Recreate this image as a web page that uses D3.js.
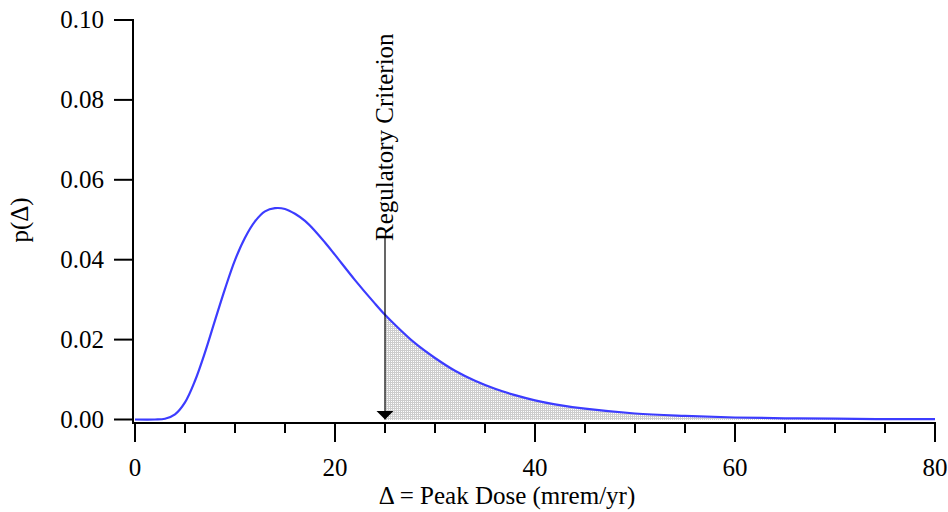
<!DOCTYPE html>
<html>
<head>
<meta charset="utf-8" />
<title>Peak Dose Distribution</title>
<script src="https://d3js.org/d3.v7.min.js"></script>
<style>
  body { margin: 0; background: #fff; }
</style>
</head>
<body>
<script>
// values
var doseX = [0, 2, 3, 4, 5, 6, 7, 8, 9, 10, 11, 12, 13, 14, 15, 16, 17, 18, 19, 20,
             22, 24, 25, 26, 28, 30, 32, 34, 36, 38, 40, 42, 45, 50, 55, 60, 65, 70, 75, 80];
var probY = [0, 0, 0.0002, 0.0013, 0.0043, 0.0097, 0.0168, 0.0248, 0.0327, 0.0399, 0.0455, 0.0496,
             0.0521, 0.0529, 0.0527, 0.0515, 0.0497, 0.0472, 0.0443, 0.0412,
             0.0349, 0.0290, 0.0262, 0.0237, 0.0191, 0.0154, 0.0122, 0.0097, 0.0077, 0.0061,
             0.0048, 0.0038, 0.0027, 0.0015, 0.0009, 0.0005, 0.0003, 0.0002, 0.0001, 0.0001];
var xTicks = [0, 20, 40, 60, 80];
var yTicks = [0, 0.02, 0.04, 0.06, 0.08, 0.10];
var criterion = 25;
var criterionLabel = "Regulatory Criterion";
var xTitle = "\u0394 = Peak Dose (mrem/yr)";
var yTitle = "p(\u0394)";

var width = 948, height = 512;
var data = doseX.map(function (d, i) { return { x: d, y: probY[i] }; });

var x = d3.scaleLinear().domain([0, 80]).range([135, 935]);
var y = d3.scaleLinear().domain([0, 0.10]).range([419.5, 20]);

var svg = d3.select('body').append('svg')
    .attr('width', width)
    .attr('height', height)
    .attr('font-family', '"Liberation Serif", "Times New Roman", Times, serif');

var defs = svg.append('defs');
var pat = defs.append('pattern')
    .attr('id', 'stipple')
    .attr('patternUnits', 'userSpaceOnUse')
    .attr('width', 2).attr('height', 2);
pat.append('rect').attr('width', 2).attr('height', 2).attr('fill', '#cdcdcd');
pat.append('rect').attr('x', 1).attr('y', 1).attr('width', 1).attr('height', 1).attr('fill', '#ffffff');

// shaded tail beyond the criterion
var tail = data.filter(function (d) { return d.x >= criterion; });
var area = d3.area()
    .x(function (d) { return x(d.x); })
    .y0(y(0))
    .y1(function (d) { return y(d.y); })
    .curve(d3.curveCatmullRom);
svg.append('path')
    .datum(tail)
    .attr('d', area)
    .attr('fill', 'url(#stipple)')
    .attr('shape-rendering', 'crispEdges');

// axes
var xAxis = svg.append('g').attr('transform', 'translate(0,423)');
xAxis.append('line')
    .attr('x1', 133).attr('x2', x(80) + 1)
    .attr('stroke', '#000').attr('stroke-width', 2);
xAxis.selectAll('.minor')
    .data(d3.range(0, 81, 5))
    .enter().append('line')
    .attr('x1', function (d) { return x(d); })
    .attr('x2', function (d) { return x(d); })
    .attr('y1', 0)
    .attr('y2', function (d) { return d % 20 === 0 ? 19 : 10; })
    .attr('stroke', '#000').attr('stroke-width', 2);
xAxis.selectAll('.lbl')
    .data(xTicks)
    .enter().append('text')
    .attr('x', function (d) { return x(d); })
    .attr('y', 53)
    .attr('text-anchor', 'middle')
    .attr('font-size', 25)
    .text(function (d) { return d; });

var yAxis = svg.append('g');
yAxis.append('line')
    .attr('x1', 133).attr('x2', 133)
    .attr('y1', y(0.10) - 1).attr('y2', 424)
    .attr('stroke', '#000').attr('stroke-width', 2);
yAxis.selectAll('.tk')
    .data(yTicks)
    .enter().append('line')
    .attr('x1', 114).attr('x2', 133)
    .attr('y1', function (d) { return y(d); })
    .attr('y2', function (d) { return y(d); })
    .attr('stroke', '#000').attr('stroke-width', 2);
yAxis.selectAll('.lbl')
    .data(yTicks)
    .enter().append('text')
    .attr('x', 104)
    .attr('y', function (d) { return y(d); })
    .attr('dy', '0.33em')
    .attr('text-anchor', 'end')
    .attr('font-size', 25)
    .text(function (d) { return d3.format('.2f')(d); });

// curve
var line = d3.line()
    .x(function (d) { return x(d.x); })
    .y(function (d) { return y(d.y); })
    .curve(d3.curveCatmullRom);
svg.append('path')
    .datum(data)
    .attr('d', line)
    .attr('fill', 'none')
    .attr('stroke', '#3c3cff')
    .attr('stroke-width', 2.2);

// regulatory criterion arrow
defs.append('marker')
    .attr('id', 'arrow')
    .attr('viewBox', '0 0 10 10')
    .attr('refX', 10).attr('refY', 5)
    .attr('markerWidth', 9).attr('markerHeight', 18)
    .attr('markerUnits', 'userSpaceOnUse')
    .attr('orient', 'auto')
    .attr('preserveAspectRatio', 'none')
    .append('path')
    .attr('d', 'M0,0 L10,5 L0,10 Z')
    .attr('fill', '#000');
svg.append('line')
    .attr('x1', x(criterion)).attr('x2', x(criterion))
    .attr('y1', 238).attr('y2', y(0))
    .attr('stroke', '#000').attr('stroke-width', 1.2)
    .attr('marker-end', 'url(#arrow)');
svg.append('text')
    .attr('transform', 'translate(' + (x(criterion) + 8) + ',241) rotate(-90)')
    .attr('font-size', 25)
    .text(criterionLabel);

// titles
svg.append('text')
    .attr('x', 507)
    .attr('y', 504)
    .attr('text-anchor', 'middle')
    .attr('font-size', 25)
    .text(xTitle);
svg.append('text')
    .attr('transform', 'translate(28,220) rotate(-90)')
    .attr('text-anchor', 'middle')
    .attr('font-size', 25)
    .text(yTitle);
</script>
</body>
</html>
